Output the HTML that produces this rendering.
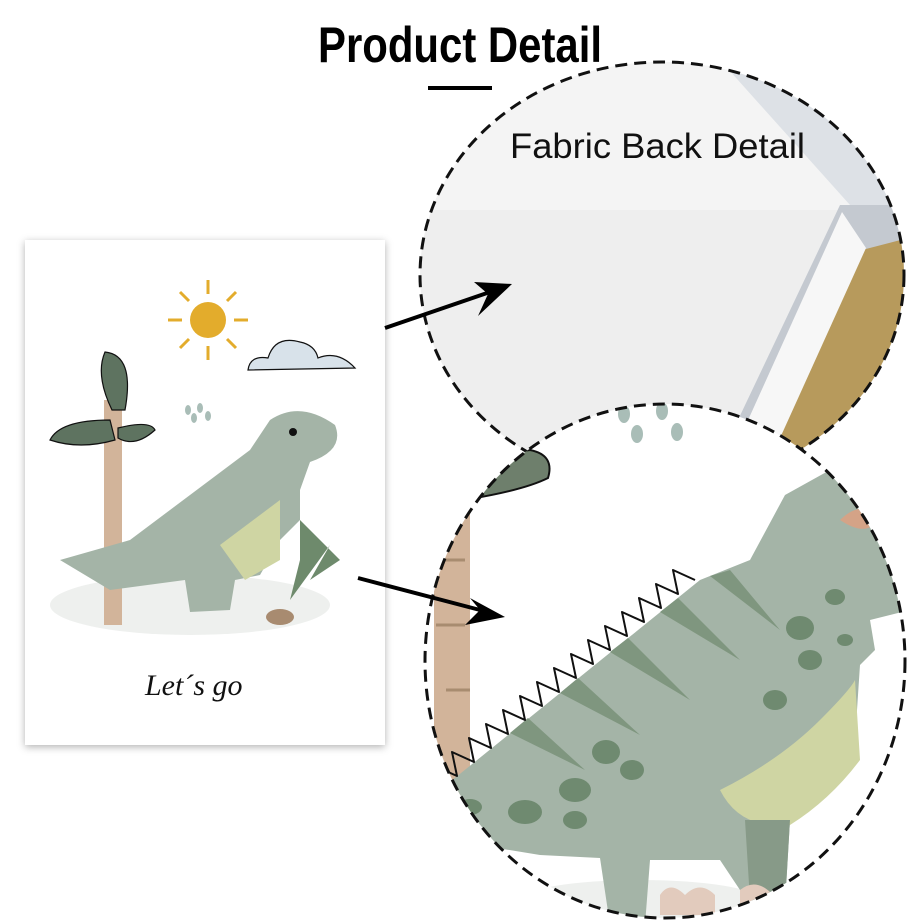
<!DOCTYPE html>
<html><head><meta charset="utf-8"><style>
html,body{margin:0;padding:0;background:#fff;width:920px;height:920px;overflow:hidden}
</style></head><body>
<svg width="920" height="920" viewBox="0 0 920 920" xmlns="http://www.w3.org/2000/svg">
<defs>
<clipPath id="c1"><ellipse cx="662" cy="275" rx="242" ry="213"/></clipPath>
<clipPath id="c2"><ellipse cx="665" cy="661" rx="240" ry="257"/></clipPath>
<filter id="sh" x="-10%" y="-10%" width="120%" height="120%"><feDropShadow dx="0" dy="2" stdDeviation="4" flood-color="#000" flood-opacity="0.3"/></filter>
</defs>
<text x="318" y="62" textLength="284" lengthAdjust="spacingAndGlyphs" font-family="Liberation Sans, sans-serif" font-weight="bold" font-size="50" fill="#000">Product Detail</text>
<rect x="428" y="86" width="64" height="4" fill="#000"/>

<!-- top circle -->
<g clip-path="url(#c1)">
<rect x="400" y="40" width="520" height="460" fill="#eeeeee"/>
<rect x="400" y="40" width="520" height="170" fill="#f4f4f4"/>
<polygon points="720,60 920,60 920,210 850,205" fill="#dde1e6"/>
<polygon points="840,205 920,205 920,500 700,500" fill="#c4c9d0"/>
<polygon points="862,250 920,235 920,500 750,500" fill="#b79a5c"/>
<polygon points="842,212 866,248 752,500 712,500" fill="#f7f7f7"/>
</g>
<ellipse cx="662" cy="275" rx="242" ry="213" fill="none" stroke="#111" stroke-width="3" stroke-dasharray="12 7"/>
<text x="510" y="158" textLength="295" lengthAdjust="spacingAndGlyphs" font-family="Liberation Sans, sans-serif" font-size="35" fill="#111">Fabric Back Detail</text>

<!-- bottom circle -->
<g clip-path="url(#c2)">
<rect x="420" y="400" width="490" height="520" fill="#fff"/>
<ellipse cx="624" cy="414" rx="6" ry="9" fill="#a9bdb7"/>
<ellipse cx="662" cy="411" rx="6" ry="9" fill="#a9bdb7"/>
<ellipse cx="637" cy="434" rx="6" ry="9" fill="#a9bdb7"/>
<ellipse cx="677" cy="432" rx="6" ry="9" fill="#a9bdb7"/>
<rect x="434" y="495" width="36" height="300" fill="#d2b49a"/>
<g stroke="#a88c70" stroke-width="3"><line x1="436" y1="560" x2="465" y2="560"/><line x1="436" y1="625" x2="465" y2="625"/><line x1="446" y1="690" x2="470" y2="690"/></g>
<path d="M450 500 Q485 455 530 450 Q555 455 548 478 Q520 492 450 502Z" fill="#6e7f6c" stroke="#111" stroke-width="2"/>
<ellipse cx="640" cy="900" rx="120" ry="20" fill="#eef0ee"/>
<path d="M420 800 L440 790 L700 580 L750 560 L785 495 L830 470 L880 475 L910 500 L910 610 L870 620 L875 650 L860 665 L855 740 L820 790 L790 820 L785 905 L750 905 L720 860 L650 860 L645 925 L610 925 L600 858 L540 855 L460 842 L420 838Z" fill="#a4b4a7"/>
<path d="M720 790 Q780 760 820 720 Q850 690 855 680 L860 760 Q830 800 790 825 Q740 830 720 790Z" fill="#cfd5a3"/>
<path d="M745 820 L790 820 L785 905 L750 900Z" fill="#879a88"/>
<path d="M660 895 Q670 880 685 895 Q700 880 715 895 L715 915 L660 915Z M740 890 Q755 878 770 892 L770 910 L740 910Z" fill="#e2cbbd"/>
<path d="M840 520 Q860 500 880 515 Q870 540 840 520Z" fill="#d4a387"/>
<g fill="#7f967f">
<path d="M510 733 L528 718 L585 770Z M560 693 L578 678 L640 735Z M610 652 L628 638 L690 700Z M660 612 L678 598 L740 660Z M710 576 L730 570 L780 630Z"/>
</g>
<path d="M440 790 l-5 -24 l22 10 l-5 -24 l22 10 l-5 -24 l22 10 l-5 -24 l22 10 l-5 -24 l22 10 l-5 -24 l22 10 l-5 -24 l22 10 l-5 -24 l22 10 l-5 -24 l22 10 l-5 -24 l22 10 l-5 -24 l22 10 l-5 -24 l22 10 l-5 -24 l22 10 l-5 -24 l22 10 l-5 -24 l22 10" fill="none" stroke="#111" stroke-width="2" stroke-linejoin="round"/>
<g fill="#6f8a70">
<ellipse cx="606" cy="752" rx="14" ry="12"/><ellipse cx="575" cy="790" rx="16" ry="12"/><ellipse cx="525" cy="812" rx="17" ry="12"/><ellipse cx="575" cy="820" rx="12" ry="9"/><ellipse cx="632" cy="770" rx="12" ry="10"/><ellipse cx="800" cy="628" rx="14" ry="12"/><ellipse cx="810" cy="660" rx="12" ry="10"/><ellipse cx="775" cy="700" rx="12" ry="10"/><ellipse cx="835" cy="597" rx="10" ry="8"/><ellipse cx="470" cy="807" rx="12" ry="8"/><ellipse cx="845" cy="640" rx="8" ry="6"/>
</g>
</g>
<ellipse cx="665" cy="661" rx="240" ry="257" fill="none" stroke="#111" stroke-width="3" stroke-dasharray="12 7"/>

<!-- poster -->
<rect x="25" y="240" width="360" height="505" fill="#fff" filter="url(#sh)"/>
<circle cx="208" cy="320" r="18" fill="#e3ac2c"/>
<g stroke="#e3ac2c" stroke-width="3">
<line x1="208" y1="280" x2="208" y2="294"/><line x1="208" y1="346" x2="208" y2="360"/><line x1="168" y1="320" x2="182" y2="320"/><line x1="234" y1="320" x2="248" y2="320"/>
<line x1="180" y1="292" x2="189" y2="301"/><line x1="227" y1="339" x2="236" y2="348"/><line x1="236" y1="292" x2="227" y2="301"/><line x1="189" y1="339" x2="180" y2="348"/>
</g>
<path d="M248 370 Q250 355 268 358 Q275 335 300 342 Q315 345 318 358 Q338 350 355 368Z" fill="#d8e2ea" stroke="#111" stroke-width="1.2"/>
<ellipse cx="190" cy="605" rx="140" ry="30" fill="#eef0ee"/>
<rect x="104" y="400" width="18" height="225" fill="#d2b49a"/>
<path d="M110 420 Q60 420 50 440 Q80 450 115 440Z M112 410 Q95 375 105 352 Q135 355 125 410Z M118 428 Q150 420 155 430 Q135 448 118 438Z" fill="#5e7360" stroke="#111" stroke-width="1.2"/>
<path d="M60 560 L130 540 L190 495 L250 450 L270 420 Q300 400 335 425 Q345 450 310 462 L300 490 L300 520 L280 540 L260 575 L235 580 L230 610 L190 612 L185 580 L110 590Z" fill="#a4b4a7"/>
<path d="M220 545 L280 500 L280 560 L245 580Z" fill="#cfd5a3"/>
<circle cx="293" cy="432" r="4" fill="#111"/>
<path d="M300 520 L340 560 L310 580 L330 545 L290 600 L300 560Z" fill="#6e8a6c"/>
<ellipse cx="280" cy="617" rx="14" ry="8" fill="#a88b70"/>
<g fill="#a9bdb7"><ellipse cx="188" cy="410" rx="3" ry="5"/><ellipse cx="200" cy="408" rx="3" ry="5"/><ellipse cx="194" cy="418" rx="3" ry="5"/><ellipse cx="208" cy="416" rx="3" ry="5"/></g>
<text x="145" y="695" font-family="Liberation Serif, serif" font-style="italic" font-size="30" fill="#111">Let´s go</text>

<!-- arrows -->
<line x1="385" y1="328" x2="490" y2="292" stroke="#000" stroke-width="4"/>
<polygon points="512,284 474,282 488,294 478,316" fill="#000"/>
<line x1="358" y1="578" x2="480" y2="610" stroke="#000" stroke-width="4"/>
<polygon points="505,617 470,598 480,610 465,625" fill="#000"/>
</svg>
</body></html>
